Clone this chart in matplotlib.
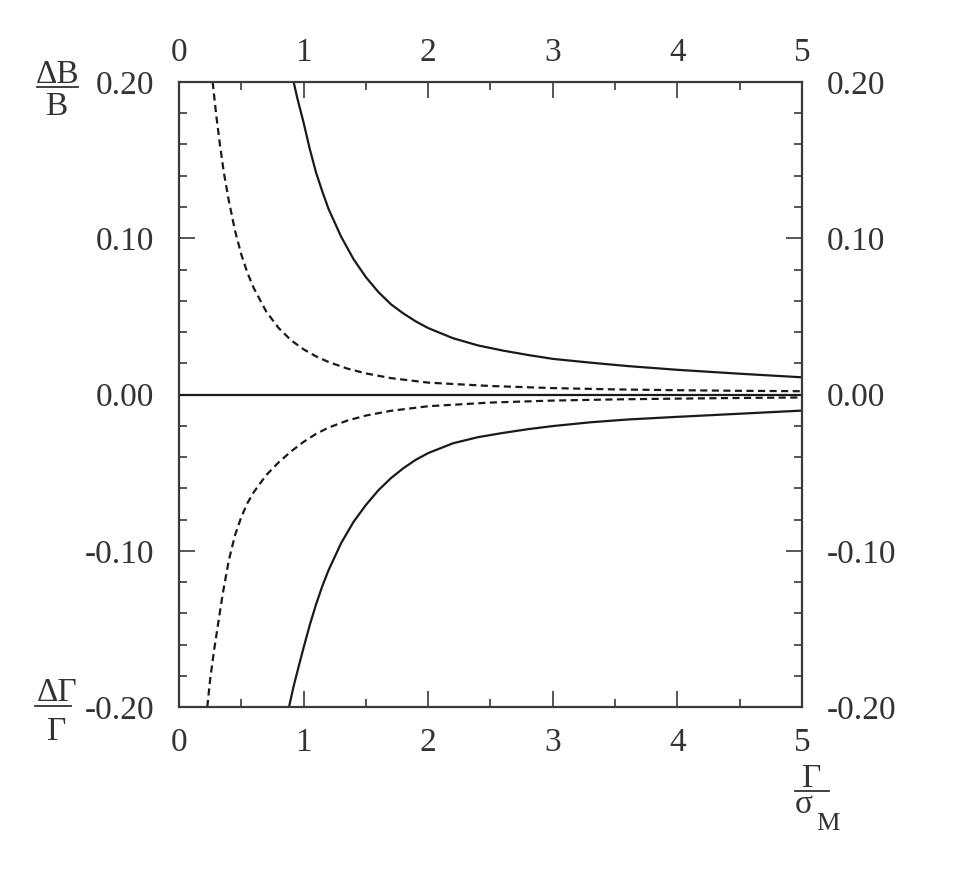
import matplotlib
matplotlib.use("Agg")
import matplotlib.pyplot as plt
from matplotlib.lines import Line2D
from matplotlib.ticker import MultipleLocator, FixedLocator, FixedFormatter

# ---- data ----
x_upper_solid = [0.92, 0.95, 1.00, 1.05, 1.10, 1.15, 1.20, 1.30, 1.40, 1.50, 1.60, 1.70, 1.80,
                 1.90, 2.00, 2.20, 2.40, 2.60, 2.80, 3.00, 3.30, 3.60, 4.00, 4.50, 5.00]
y_upper_solid = [0.200, 0.1895, 0.174, 0.157, 0.142, 0.130, 0.1188, 0.1012, 0.0867, 0.0751,
                 0.0656, 0.0578, 0.0519, 0.0468, 0.0425, 0.0360, 0.0314, 0.0281, 0.0253,
                 0.0228, 0.0204, 0.0182, 0.0158, 0.0133, 0.0110]

x_upper_dashed = [0.27, 0.30, 0.33, 0.36, 0.40, 0.45, 0.50, 0.55, 0.60, 0.70, 0.80, 0.90,
                  1.00, 1.10, 1.20, 1.35, 1.50, 1.70, 2.00, 2.50, 3.00, 3.50, 4.00, 4.50, 5.00]
y_upper_dashed = [0.200, 0.178, 0.159, 0.142, 0.124, 0.1047, 0.0896, 0.0777, 0.0681, 0.0531,
                  0.0425, 0.0347, 0.0289, 0.0244, 0.0208, 0.0166, 0.0135, 0.0105, 0.0076,
                  0.00544, 0.0041, 0.00327, 0.00275, 0.00237, 0.0021]

x_lower_dashed = [0.227, 0.25, 0.28, 0.31, 0.35, 0.40, 0.45, 0.50, 0.55, 0.60, 0.70, 0.80,
                  0.90, 1.00, 1.10, 1.20, 1.35, 1.50, 1.70, 2.00, 2.50, 3.00, 3.50, 4.00,
                  4.50, 5.00]
y_lower_dashed = [-0.200, -0.1824, -0.1645, -0.1488, -0.128, -0.106, -0.0899, -0.0784,
                  -0.0694, -0.0625, -0.0516, -0.0434, -0.0364, -0.0303, -0.0252, -0.0212,
                  -0.0167, -0.01347, -0.01045, -0.0075, -0.00515, -0.00389, -0.00313,
                  -0.00263, -0.00222, -0.0019]

x_lower_solid = [0.883, 0.92, 0.96, 1.00, 1.05, 1.10, 1.15, 1.20, 1.30, 1.40, 1.50, 1.60,
                 1.70, 1.80, 1.90, 2.00, 2.20, 2.40, 2.60, 2.80, 3.00, 3.30, 3.60, 4.00,
                 4.50, 5.00]
y_lower_solid = [-0.200, -0.1867, -0.1742, -0.162, -0.1474, -0.1343, -0.1227, -0.1125,
                 -0.0953, -0.0816, -0.0707, -0.0613, -0.0536, -0.0472, -0.0418, -0.0375,
                 -0.0312, -0.0273, -0.0246, -0.0222, -0.0202, -0.0178, -0.0160, -0.0143,
                 -0.0123, -0.0103]

x_zero = [0.0, 5.0]
y_zero = [0.0, 0.0]

x_ticks = [0, 1, 2, 3, 4, 5]
x_tick_labels = ["0", "1", "2", "3", "4", "5"]
y_ticks = [-0.20, -0.10, 0.00, 0.10, 0.20]
y_tick_labels = ["-0.20", "-0.10", "0.00", "0.10", "0.20"]

# ---- figure ----
plt.rcParams["font.family"] = ["Liberation Serif", "DejaVu Serif"]
plt.rcParams["axes.unicode_minus"] = False

W, H = 969, 872
fig = plt.figure(figsize=(W / 100, H / 100), dpi=100)
ax = fig.add_axes([179 / W, 1 - 707 / H, (802 - 179) / W, (707 - 82) / H])

text_col = "#333333"
line_col = "#1a1a1a"
spine_col = "#3a3a3a"
lw = 1.6
fs = 24

ax.plot(x_zero, y_zero, color=line_col, lw=lw, solid_capstyle="butt")
ax.plot(x_upper_solid, y_upper_solid, color=line_col, lw=lw)
ax.plot(x_lower_solid, y_lower_solid, color=line_col, lw=lw)
ax.plot(x_upper_dashed, y_upper_dashed, color=line_col, lw=lw, linestyle=(0, (3.2, 2.0)))
ax.plot(x_lower_dashed, y_lower_dashed, color=line_col, lw=lw, linestyle=(0, (3.2, 2.0)))

ax.set_xlim(0, 5)
ax.set_ylim(-0.2, 0.2)

for s in ax.spines.values():
    s.set_color(spine_col)
    s.set_linewidth(1.6)

ax.xaxis.set_major_locator(FixedLocator(x_ticks))
ax.xaxis.set_major_formatter(FixedFormatter(x_tick_labels))
ax.xaxis.set_minor_locator(MultipleLocator(0.5))
ax.yaxis.set_major_locator(FixedLocator(y_ticks))
ax.yaxis.set_major_formatter(FixedFormatter(y_tick_labels))
ax.yaxis.set_minor_locator(MultipleLocator(0.02))

ax.tick_params(which="both", direction="in", top=True, right=True,
               labeltop=False, labelright=True, color=spine_col, width=1.2,
               labelcolor=text_col, labelsize=fs)
ax.tick_params(which="major", length=11.5)
ax.tick_params(which="minor", length=5.8)
ax.tick_params(axis="x", which="major", pad=15)
ax.tick_params(axis="y", which="major", pad=18)

# top tick labels (own padding)
sec = ax.secondary_xaxis("top")
sec.xaxis.set_major_locator(FixedLocator(x_ticks))
sec.xaxis.set_major_formatter(FixedFormatter(x_tick_labels))
sec.tick_params(which="major", direction="in", length=0, pad=10,
                labelcolor=text_col, labelsize=fs)
sec.spines["top"].set_visible(False)


def fy(py):
    return 1 - py / H


def fx(px):
    return px / W


# left top fraction  dB/B
fig.text(fx(58), fy(83), "ΔB", ha="center", va="baseline", fontsize=fs, color=text_col)
fig.add_artist(Line2D([fx(37), fx(78)], [fy(87), fy(87)], color=text_col, lw=1.3))
fig.text(fx(56), fy(115), "B", ha="center", va="baseline", fontsize=fs, color=text_col)

# left bottom fraction  dGamma/Gamma
fig.text(fx(57), fy(701), "ΔΓ", ha="center", va="baseline", fontsize=fs, color=text_col)
fig.add_artist(Line2D([fx(35), fx(71)], [fy(706), fy(706)], color=text_col, lw=1.3))
fig.text(fx(57), fy(740), "Γ", ha="center", va="baseline", fontsize=fs, color=text_col)

# right bottom fraction  Gamma/sigma_M
fig.text(fx(812), fy(787), "Γ", ha="center", va="baseline", fontsize=fs, color=text_col)
fig.add_artist(Line2D([fx(795), fx(829)], [fy(791), fy(791)], color=text_col, lw=1.3))
fig.text(fx(795), fy(813), "σ", ha="left", va="baseline", fontsize=fs, color=text_col)
fig.text(fx(816), fy(830), "M", ha="left", va="baseline", fontsize=19, color=text_col)

fig.savefig("out.png", dpi=100, facecolor="white")
